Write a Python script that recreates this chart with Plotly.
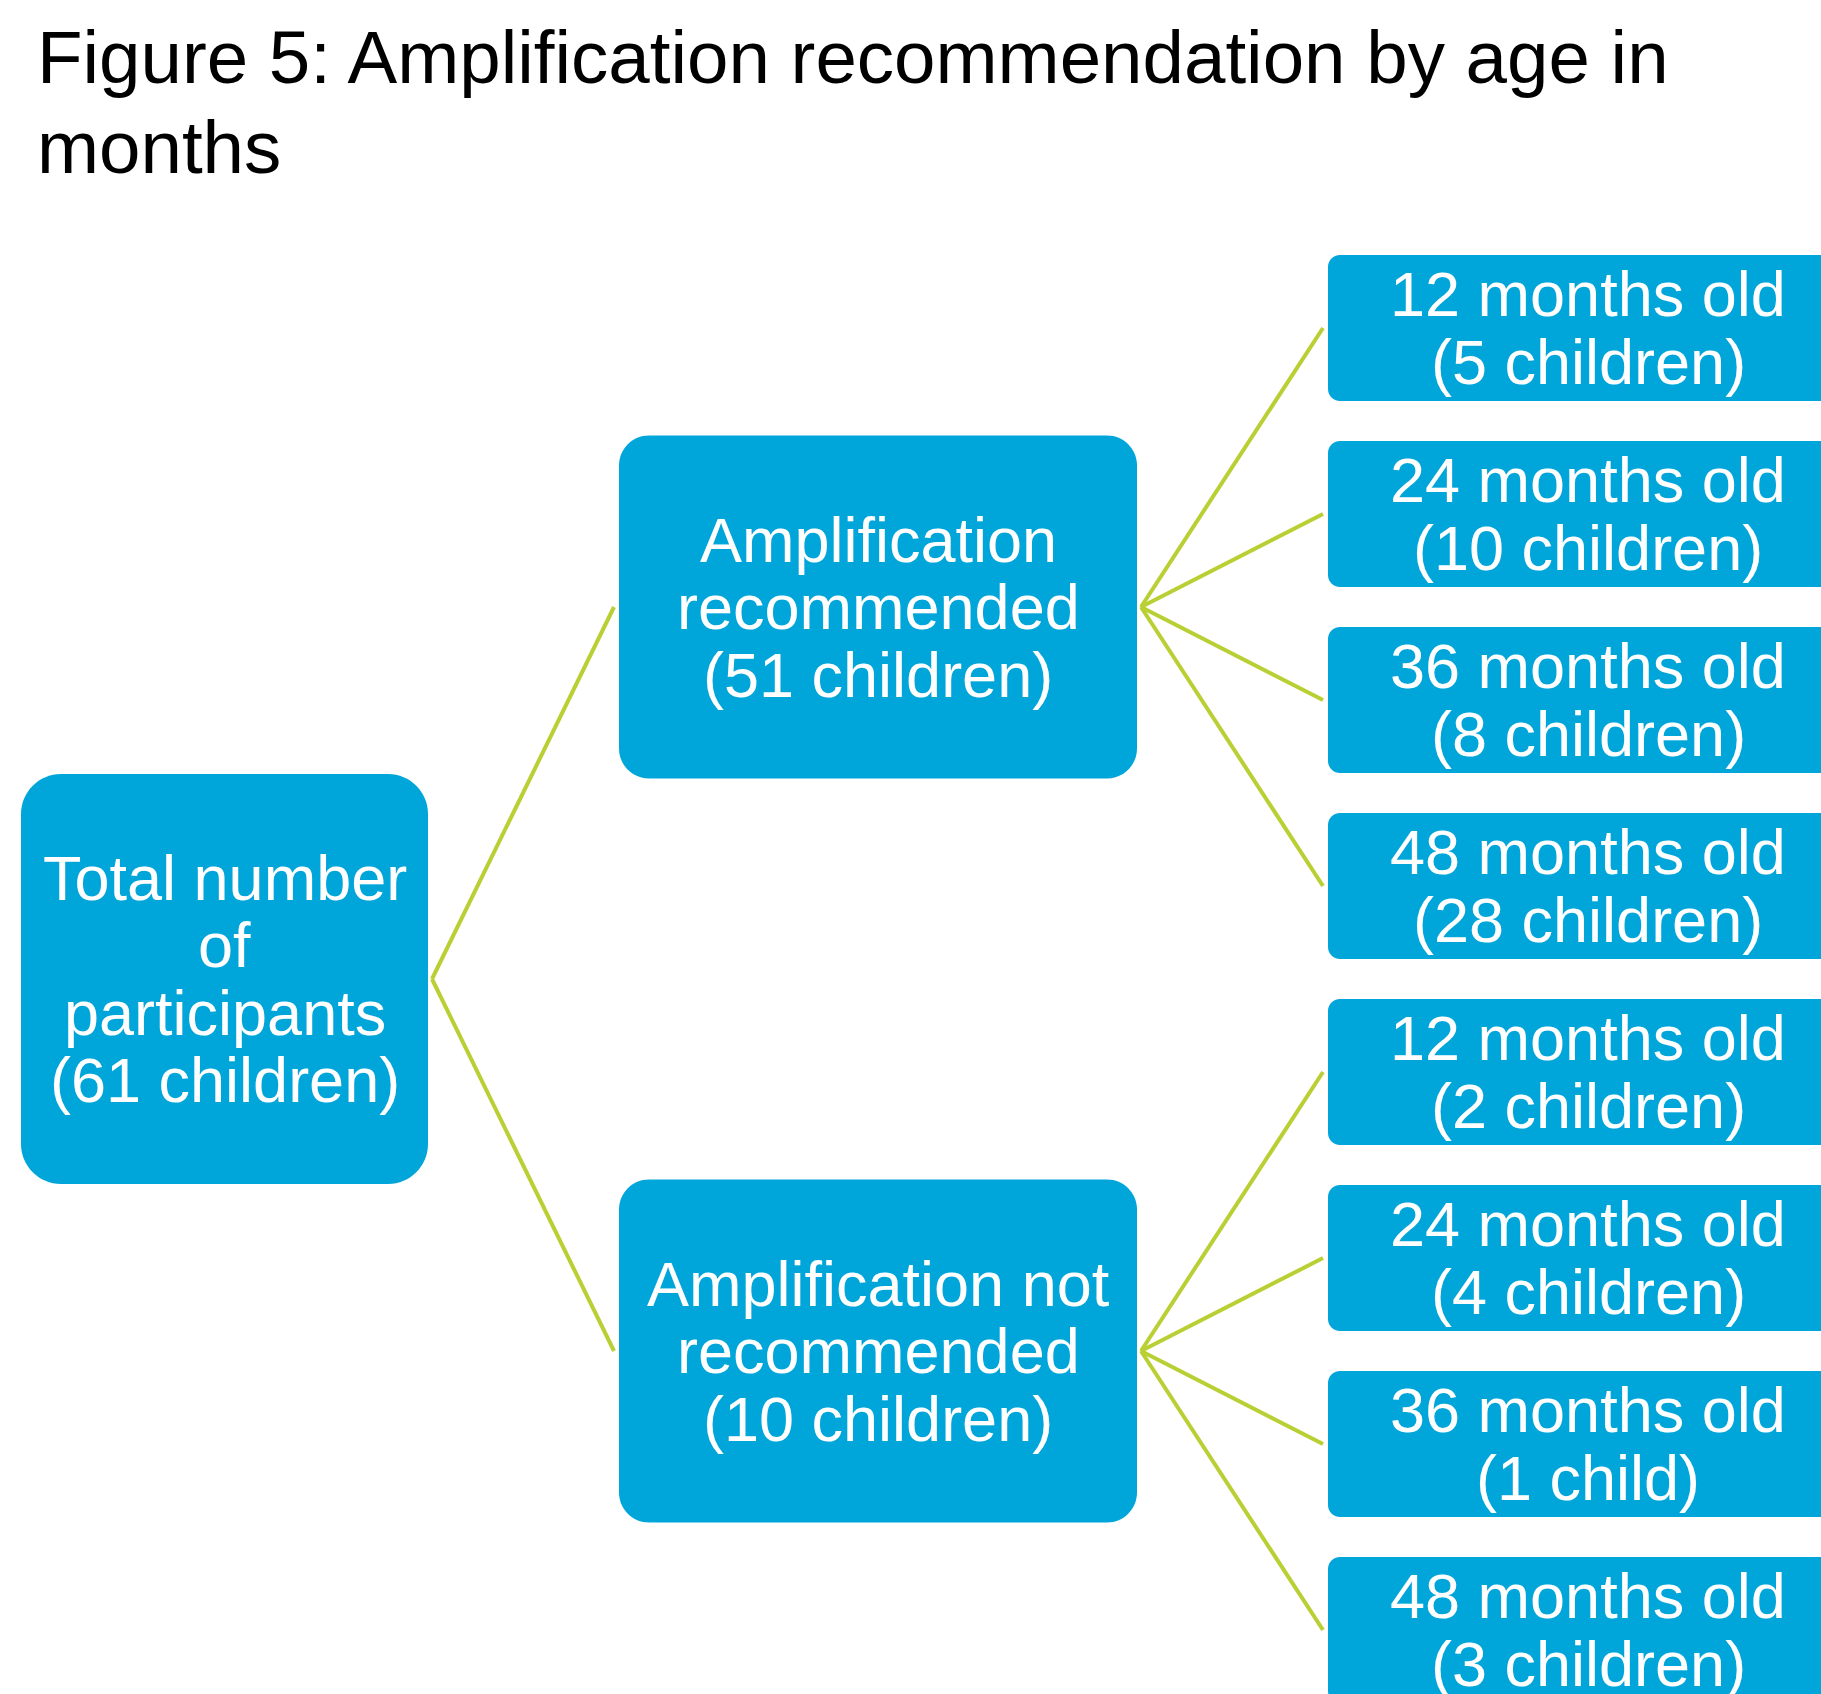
import plotly.graph_objects as go

# ---------------- data ----------------
TITLE_LINES = ["Figure 5: Amplification recommendation by age in", "months"]
ROOT_LINES = ["Total number", "of", "participants"]
ROOT_COUNT = 61
GROUP_LINES = [["Amplification", "recommended"], ["Amplification not", "recommended"]]
GROUP_COUNTS = [51, 10]
AGE_MONTHS = [12, 24, 36, 48]
LEAF_COUNTS = [[5, 10, 8, 28], [2, 4, 1, 3]]

# ---------------- style / layout constants ----------------
W, H = 1821, 1694
BOX_COLOR = "#00A5DA"
LINE_COLOR = "#BACF34"
FONT = "Liberation Sans, Arial, sans-serif"
FS = 63
LS = 67.5
TITLE_FS = 74.5

ROOT_X = (21, 428)
MID_X = (619, 1137)
LEAF_X = (1328, 1848)
ROOT_H, MID_H, LEAF_H = 410, 343, 146
ROOT_R, MID_R, LEAF_R = 40, 30, 12
LEAF_FIRST_CY = 328
LEAF_PITCH = 186


def count_text(n):
    return f"({n} child)" if n == 1 else f"({n} children)"


def rounded_rect(x0, y0, x1, y1, r):
    k = 0.5523 * r
    return (
        f"M {x0 + r},{y0} L {x1 - r},{y0} "
        f"C {x1 - r + k},{y0} {x1},{y0 + r - k} {x1},{y0 + r} "
        f"L {x1},{y1 - r} "
        f"C {x1},{y1 - r + k} {x1 - r + k},{y1} {x1 - r},{y1} "
        f"L {x0 + r},{y1} "
        f"C {x0 + r - k},{y1} {x0},{y1 - r + k} {x0},{y1 - r} "
        f"L {x0},{y0 + r} "
        f"C {x0},{y0 + r - k} {x0 + r - k},{y0} {x0 + r},{y0} Z"
    )


shapes = []
annotations = []
line_x, line_y = [], []


def add_box(xr, cy, h, r, lines):
    x0, x1 = xr
    shapes.append(dict(type="path", xref="x", yref="y",
                       path=rounded_rect(x0, cy - h / 2, x1, cy + h / 2, r),
                       fillcolor=BOX_COLOR, line=dict(width=0), layer="above"))
    n = len(lines)
    cx = (x0 + x1) / 2
    for i, t in enumerate(lines):
        annotations.append(dict(x=cx, y=cy + (i - (n - 1) / 2) * LS, xref="x", yref="y",
                                text=t, showarrow=False, xanchor="center", yanchor="middle",
                                font=dict(family=FONT, size=FS, color="white")))


def add_link(px1, pcy, cx0, ccy):
    line_x.extend([px1 + 4, cx0 - 5, None])
    line_y.extend([pcy, ccy, None])


# compute tree positions
group_cys = []
leaf_idx = 0
leaf_boxes = []
for g, counts in enumerate(LEAF_COUNTS):
    cys = []
    for a, c in zip(AGE_MONTHS, counts):
        cy = LEAF_FIRST_CY + LEAF_PITCH * leaf_idx
        cys.append(cy)
        leaf_boxes.append((cy, [f"{a} months old", count_text(c)]))
        leaf_idx += 1
    group_cys.append((cys, sum(cys) / len(cys)))

root_cy = sum(gc for _, gc in group_cys) / len(group_cys)

add_box(ROOT_X, root_cy, ROOT_H, ROOT_R, ROOT_LINES + [count_text(ROOT_COUNT)])
for g, (cys, gcy) in enumerate(group_cys):
    add_link(ROOT_X[1], root_cy, MID_X[0], gcy)
    add_box(MID_X, gcy, MID_H, MID_R, GROUP_LINES[g] + [count_text(GROUP_COUNTS[g])])
    for cy in cys:
        add_link(MID_X[1], gcy, LEAF_X[0], cy)
for cy, lines in leaf_boxes:
    add_box(LEAF_X, cy, LEAF_H, LEAF_R, lines)

# title
title_centers = [57, 147]
for t, yc in zip(TITLE_LINES, title_centers):
    annotations.append(dict(x=35, y=yc, xref="x", yref="y", text=t, showarrow=False,
                            xanchor="left", yanchor="middle",
                            font=dict(family=FONT, size=TITLE_FS, color="black")))

fig = go.Figure()
fig.add_trace(go.Scatter(x=line_x, y=line_y, mode="lines",
                         line=dict(color=LINE_COLOR, width=4),
                         hoverinfo="skip", showlegend=False))

fig.update_layout(
    width=W, height=H,
    margin=dict(l=0, r=0, t=0, b=0),
    paper_bgcolor="white", plot_bgcolor="white",
    xaxis=dict(range=[0, W], visible=False, fixedrange=True),
    yaxis=dict(range=[H, 0], visible=False, fixedrange=True),
    shapes=shapes, annotations=annotations,
    showlegend=False,
)

fig.write_html("out.html",
               config={"displayModeBar": False},
               post_script="document.body.style.margin='0';document.body.style.overflow='hidden';")
